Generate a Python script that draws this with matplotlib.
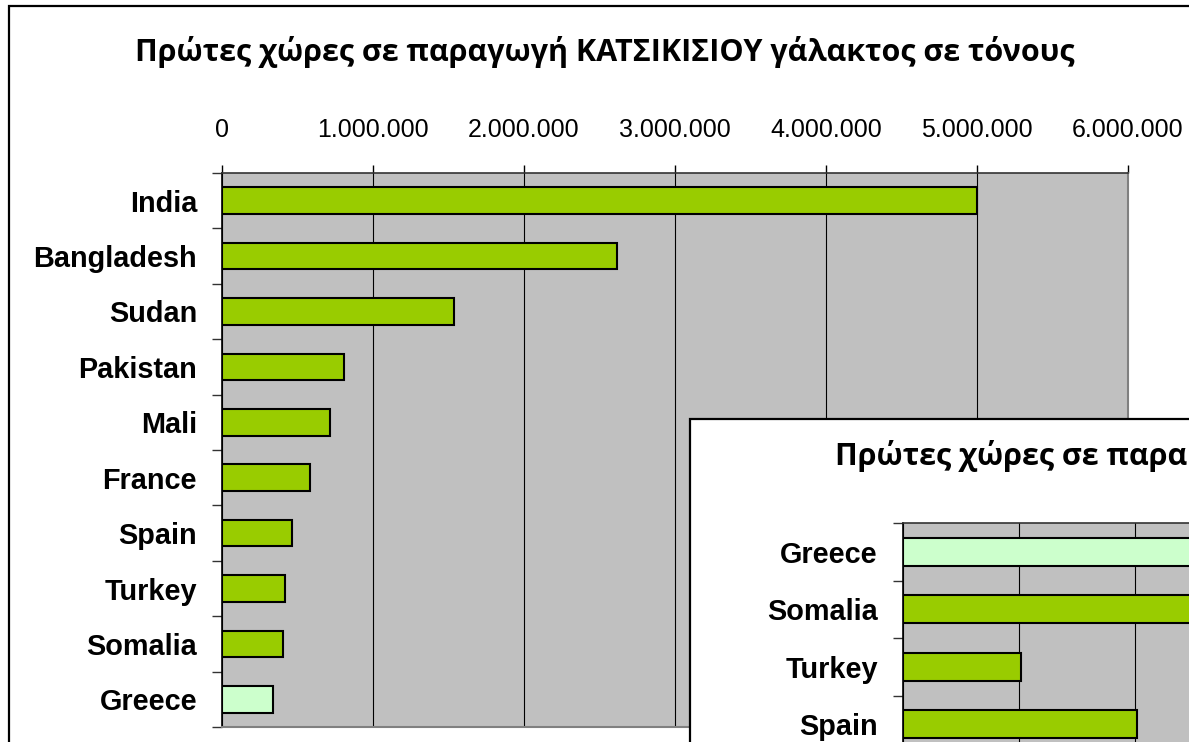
import matplotlib
matplotlib.use("Agg")
import matplotlib.pyplot as plt
from matplotlib.patches import Rectangle
from matplotlib.ticker import FuncFormatter

# main chart data (goat milk production, tonnes)
countries = ['India', 'Bangladesh', 'Sudan', 'Pakistan', 'Mali',
             'France', 'Spain', 'Turkey', 'Somalia', 'Greece']
production = [5000000, 2616000, 1536000, 808000, 715000,
              583000, 464000, 417000, 404000, 340000]
x_ticks = [0, 1000000, 2000000, 3000000, 4000000, 5000000, 6000000]

# second chart, only partly visible in the corner
inset_countries = ['Greece', 'Somalia', 'Turkey', 'Spain']
inset_values = [600000, 560000, 204000, 404000]
inset_ticks = [0, 200000, 400000, 600000, 800000]

title = 'Πρώτες χώρες σε παραγωγή ΚΑΤΣΙΚΙΣΙΟΥ γάλακτος σε τόνους'
inset_title = 'Πρώτες χώρες σε παρα'

GREEN = '#99CC00'
LIGHT = '#CCFFCC'
PLOT_BG = '#C0C0C0'
W, H = 1189, 742


def dots(v, pos=None):
    return f'{int(v):,}'.replace(',', '.')


def fig_rect(left, top, right, bottom):
    # pixel box -> figure fraction [l, b, w, h]
    return [left / W, 1 - bottom / H, (right - left) / W, (bottom - top) / H]


def style_bars(ax, names, values, colors, label_size):
    n = len(names)
    ypos = list(range(n))[::-1]
    ax.barh(ypos, values, height=0.48, color=colors,
            edgecolor='black', linewidth=1.5, zorder=3)
    ax.set_facecolor(PLOT_BG)
    ax.set_ylim(-0.5, n - 0.5)
    # tick marks between categories, labels at centers
    ax.set_yticks([i - 0.5 for i in range(n + 1)])
    ax.set_yticklabels([])
    ax.set_yticks(ypos, minor=True)
    ax.set_yticklabels(names, minor=True, fontsize=label_size,
                       fontweight='bold', family='Liberation Sans')
    ax.tick_params(axis='y', which='major', length=7.2, width=1, color='#333333')
    ax.tick_params(axis='y', which='minor', length=0, pad=18)
    ax.grid(axis='x', color='black', linewidth=0.8)
    ax.set_axisbelow(True)
    ax.spines['left'].set_color('black')
    ax.spines['left'].set_linewidth(1.2)
    ax.spines['top'].set_color('#333333')
    ax.spines['top'].set_linewidth(1.2)
    ax.spines['right'].set_color('#808080')
    ax.spines['right'].set_linewidth(1.5)
    ax.spines['bottom'].set_color('#808080')
    ax.spines['bottom'].set_linewidth(1.5)


fig = plt.figure(figsize=(W / 100, H / 100), dpi=100)
fig.patch.set_facecolor('white')

# outer chart frame
fig.patches.append(Rectangle((9 / W, -0.5), 2, 1.5 - 6 / H, transform=fig.transFigure,
                             facecolor='none', edgecolor='black', linewidth=1.6, zorder=0.5))

ax = fig.add_axes(fig_rect(222, 173, 1128, 727))
ax.set_zorder(1)
colors = [LIGHT if c == 'Greece' else GREEN for c in countries]
style_bars(ax, countries, production, colors, 20.8)
ax.set_xlim(0, 6000000)
ax.set_xticks(x_ticks)
ax.xaxis.set_major_formatter(FuncFormatter(dots))
ax.xaxis.tick_top()
ax.tick_params(axis='x', length=5.8, width=1, color='black', pad=16.5, labelsize=18)
for lab in ax.get_xticklabels():
    lab.set_family('Liberation Sans')

fig.text(605 / W, 1 - 61 / H, title, ha='center', va='baseline',
         fontsize=22, fontweight='bold', family='Open Sans')

# second chart overlapping lower right corner
fig.patches.append(Rectangle((690 / W, -0.5), 2, 0.5 + (H - 419) / H, transform=fig.transFigure,
                             facecolor='white', edgecolor='black', linewidth=1.6, zorder=2))

ax2 = fig.add_axes(fig_rect(903, 523, 903 + 116 * 4, 523 + 57.5 * 4))
ax2.set_zorder(3)
inset_colors = [LIGHT if c == 'Greece' else GREEN for c in inset_countries]
style_bars(ax2, inset_countries, inset_values, inset_colors, 20.8)
ax2.set_xlim(0, 800000)
ax2.set_xticks(inset_ticks)
ax2.set_xticklabels([])
ax2.tick_params(axis='x', length=0)

fig.text(835 / W, 1 - 465 / H, inset_title, ha='left', va='baseline',
         fontsize=22, fontweight='bold', family='Open Sans', zorder=4)

fig.savefig('out.png', dpi=100)
